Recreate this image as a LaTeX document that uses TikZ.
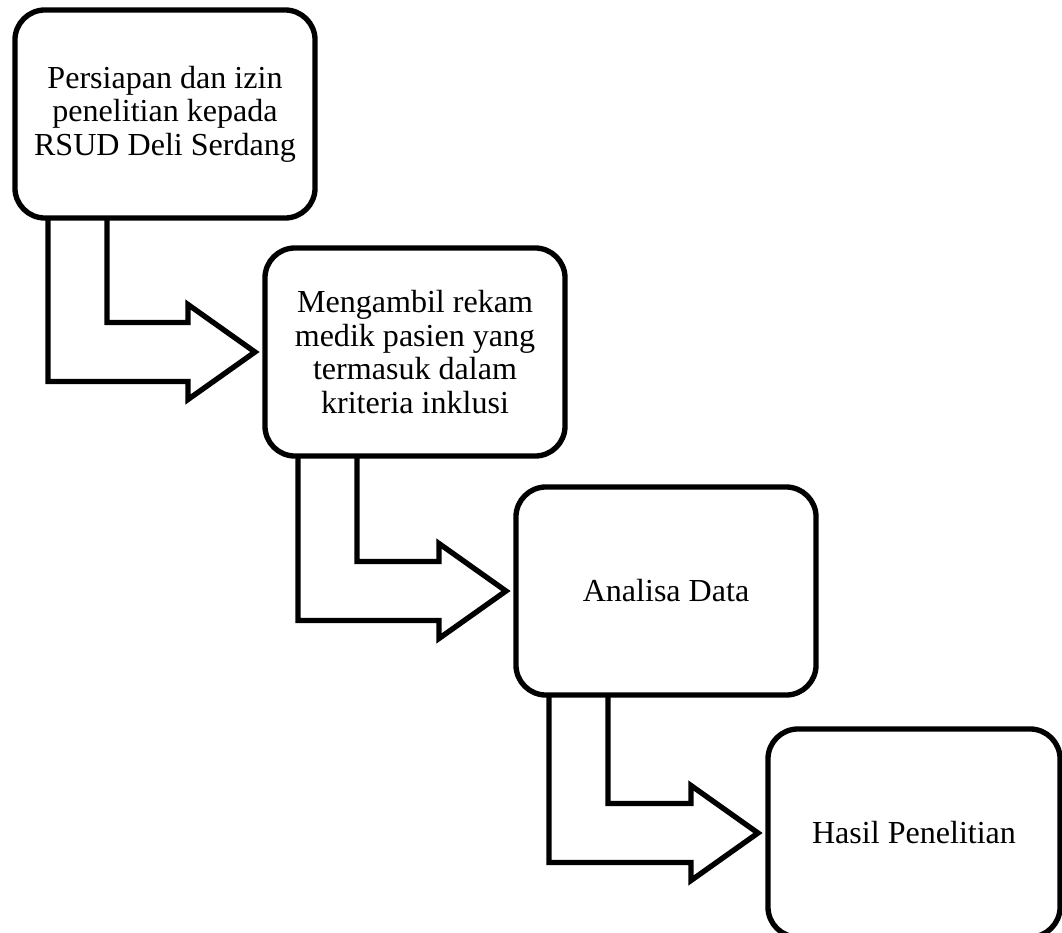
\documentclass[tikz,border=0pt]{standalone}
\usepackage{fontspec}
\setmainfont{Liberation Serif}
\usetikzlibrary{calc}

\tikzset{
  stepbox/.style={draw,line width=3.8pt,rounded corners=0.75cm,outer sep=0pt,
    minimum width=7.5cm,minimum height=5.2cm,align=center,
    font=\fontsize{22.8}{23.8}\selectfont},
  bentarrow/.style={draw,line width=3.8pt,miter limit=10}
}

\begin{document}
\begin{tikzpicture}[x=0.025cm,y=-0.025cm]
  \clip (0,0) rectangle (1062,932);

  \node[stepbox] (b1) at (165,114) {Persiapan dan izin\\penelitian kepada\\RSUD Deli Serdang};
  \node[stepbox] (b2) at (415,352) {Mengambil rekam\\medik pasien yang\\termasuk dalam\\kriteria inklusi};
  \node[stepbox] (b3) at (666,591) {Analisa Data};
  \node[stepbox,minimum width=7.3cm] (b4) at (914,833) {Hasil Penelitian};

  \foreach \a/\b in {b1/b2,b2/b3,b3/b4}
    \draw[bentarrow] ($(\a.south west)+(33,0)$) |- ($(\b.west)+(-77,29.5)$)
      -- ++(0,18) -- ($(\b.west)+(-10,0)$) -- ++(-67,-47.5) -- ++(0,18)
      -| ($(\a.south west)+(92,0)$);

\end{tikzpicture}
\end{document}
